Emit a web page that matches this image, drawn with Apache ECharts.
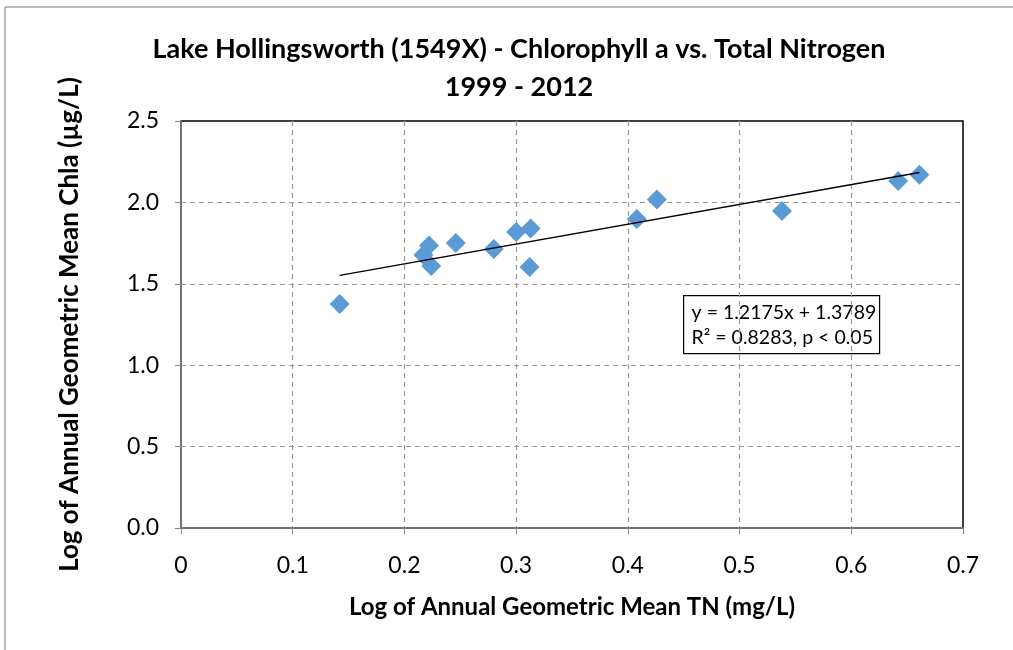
<!DOCTYPE html>
<html>
<head>
<meta charset="utf-8">
<script src="https://cdn.jsdelivr.net/npm/echarts@6/dist/echarts.min.js"></script>
<style>
  html, body { margin: 0; padding: 0; background: #fff; }
  #chart { width: 1013px; height: 650px; }
</style>
</head>
<body>
<div id="chart"></div>
<script>
// log TN (x) vs log Chla (y), 1999 - 2012
const logTN = [0.142, 0.217, 0.222, 0.224, 0.246, 0.280, 0.300, 0.313, 0.312, 0.408, 0.426, 0.538, 0.642, 0.661]
const logChla = [1.376, 1.677, 1.735, 1.609, 1.751, 1.714, 1.818, 1.840, 1.603, 1.898, 2.018, 1.947, 2.131, 2.170]
const slope = 1.2175
const intercept = 1.3789
const eqLines = ["y = 1.2175x + 1.3789", "R² = 0.8283, p < 0.05"]

const points = logTN.map((x, i) => [x, logChla[i]])
const xMin = Math.min(...logTN)
const xMax = Math.max(...logTN)
const trend = [[xMin, slope * xMin + intercept], [xMax, slope * xMax + intercept]]

const font = "Lato, 'Open Sans', sans-serif"
const myChart = echarts.init(document.getElementById("chart"))

const option = {
  animation: false,
  title: {
    text: "Lake Hollingsworth (1549X) - Chlorophyll a vs. Total Nitrogen\n1999 - 2012",
    left: 514,
    textAlign: "center",
    top: 25,
    textStyle: { fontFamily: font, fontSize: 27, fontWeight: "bold", color: "#000", lineHeight: 38 }
  },
  grid: { left: 181, right: 50, top: 121, bottom: 122, show: true, borderColor: "#000", borderWidth: 1.5 },
  xAxis: {
    type: "value",
    min: 0, max: 0.7, interval: 0.1,
    name: "Log of Annual Geometric Mean TN (mg/L)",
    nameLocation: "middle",
    nameGap: 67,
    nameTextStyle: { fontFamily: font, fontSize: 24, fontWeight: "bold", color: "#000" },
    axisLine: { show: true, lineStyle: { color: "#868686", width: 1.5 } },
    axisTick: { show: true, length: 6, inside: false, lineStyle: { color: "#868686" } },
    axisLabel: { fontFamily: font, fontSize: 23, color: "#000", margin: 26, formatter: (v) => (v === 0 ? "0" : v.toFixed(1)) },
    splitLine: { show: true, showMinLine: false, showMaxLine: false, lineStyle: { color: "#9a9a9a", type: [5, 4], width: 1.2 } }
  },
  yAxis: {
    type: "value",
    min: 0, max: 2.5, interval: 0.5,
    name: "Log of Annual Geometric Mean Chla (µg/L)",
    nameLocation: "middle",
    nameGap: 98,
    nameTextStyle: { fontFamily: font, fontSize: 26, fontWeight: "bold", color: "#000" },
    axisLine: { show: true, lineStyle: { color: "#868686", width: 1.5 } },
    axisTick: { show: true, length: 6, lineStyle: { color: "#868686" } },
    axisLabel: { fontFamily: font, fontSize: 23, color: "#000", margin: 22, formatter: (v) => v.toFixed(1) },
    splitLine: { show: true, showMinLine: false, showMaxLine: false, lineStyle: { color: "#9a9a9a", type: [5, 4], width: 1.2 } }
  },
  series: [
    {
      name: "trend",
      type: "line",
      data: trend,
      symbol: "none",
      lineStyle: { color: "#000", width: 1.5 },
      z: 3
    },
    {
      name: "data",
      type: "scatter",
      data: points,
      symbol: "diamond",
      symbolSize: [20, 20],
      itemStyle: { color: "#5b9bd5", opacity: 1 },
      z: 2
    }
  ],
  graphic: [
    { type: "line", shape: { x1: 5, y1: 7, x2: 1013, y2: 7 }, style: { stroke: "#a6a6a6", lineWidth: 1.5 } },
    { type: "line", shape: { x1: 5, y1: 7, x2: 5, y2: 650 }, style: { stroke: "#a6a6a6", lineWidth: 1.5 } },
    {
      type: "group",
      left: 683,
      top: 295,
      children: [
        { type: "rect", shape: { x: 0, y: 0, width: 196, height: 58 }, style: { fill: "#fff", stroke: "#000", lineWidth: 1.2 } },
        {
          type: "text",
          x: 8,
          y: 5,
          style: { text: eqLines.join("\n"), fontFamily: font, fontSize: 19.5, lineHeight: 25, fill: "#000" }
        }
      ]
    }
  ]
}

myChart.setOption(option)
</script>
</body>
</html>
